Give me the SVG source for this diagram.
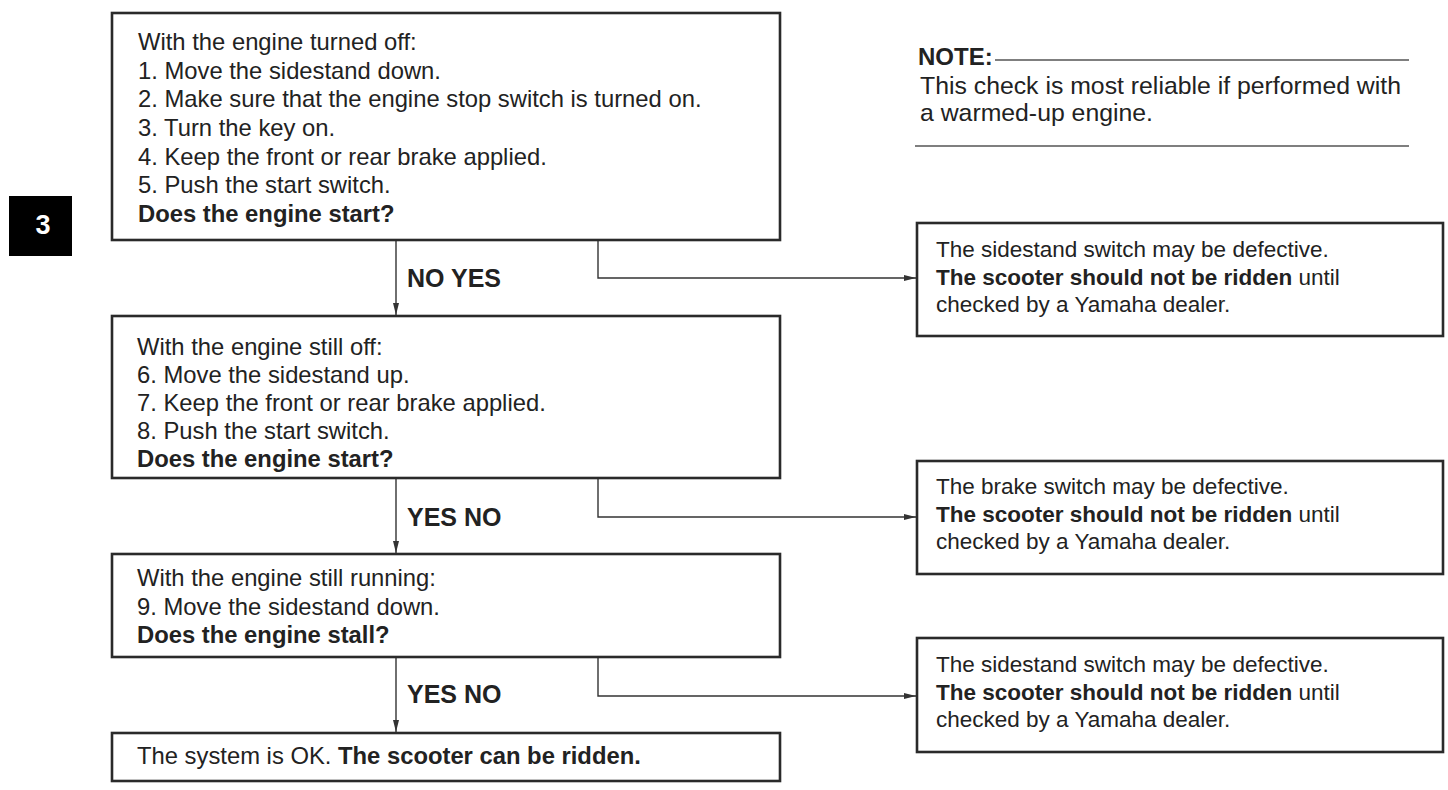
<svg xmlns="http://www.w3.org/2000/svg" width="1448" height="790" viewBox="0 0 1448 790">
<defs>
<style>
.box{fill:#fff;stroke:#2a2a2a;stroke-width:2.6}
.t{font-family:"Liberation Sans",Arial,sans-serif;font-size:23.8px;fill:#222}
.r{font-family:"Liberation Sans",Arial,sans-serif;font-size:22.5px;fill:#222}
.b{font-weight:bold}
.lbl{font-family:"Liberation Sans",Arial,sans-serif;font-size:25px;font-weight:bold;fill:#222}
.con{fill:none;stroke:#333;stroke-width:1.4}
.rule{stroke:#555;stroke-width:1.6}
</style>
<marker id="ah" viewBox="0 0 12 6" refX="12" refY="3" markerWidth="12" markerHeight="6" markerUnits="userSpaceOnUse" orient="auto">
<path d="M0,0 L12,3 L0,6 Z" fill="#333"/>
</marker>
</defs>
<rect width="1448" height="790" fill="#fff"/>

<g id="tab">
<rect x="9" y="196" width="63" height="60" fill="#000"/>
<text x="43" y="234" text-anchor="middle" font-family="Liberation Sans,Arial,sans-serif" font-size="27" font-weight="bold" fill="#fff">3</text>
</g>

<g id="note">
<text x="918" y="65" class="lbl" style="font-size:24px">NOTE:</text>
<line x1="995" y1="60" x2="1409" y2="60" class="rule"/>
<text class="t" style="font-size:24.8px"><tspan x="920" y="94">This check is most reliable if performed with</tspan><tspan x="920" y="121">a warmed-up engine.</tspan></text>
<line x1="915" y1="146" x2="1409" y2="146" class="rule"/>
</g>

<g id="connectors">
<line x1="396" y1="240" x2="396" y2="315" class="con" marker-end="url(#ah)"/>
<polyline points="598,240 598,278 916,278" class="con" marker-end="url(#ah)"/>
<line x1="396" y1="478" x2="396" y2="553" class="con" marker-end="url(#ah)"/>
<polyline points="598,478 598,517 916,517" class="con" marker-end="url(#ah)"/>
<line x1="396" y1="657" x2="396" y2="732" class="con" marker-end="url(#ah)"/>
<polyline points="598,657 598,696 916,696" class="con" marker-end="url(#ah)"/>
<text x="407" y="287" class="lbl">NO YES</text>
<text x="407" y="526" class="lbl">YES NO</text>
<text x="407" y="703" class="lbl">YES NO</text>
</g>

<g id="step1">
<rect x="112" y="13" width="668" height="227" class="box"/>
<text class="t"><tspan x="138" y="50">With the engine turned off:</tspan><tspan x="138" y="78.7">1. Move the sidestand down.</tspan><tspan x="138" y="107.3">2. Make sure that the engine stop switch is turned on.</tspan><tspan x="138" y="136">3. Turn the key on.</tspan><tspan x="138" y="164.7">4. Keep the front or rear brake applied.</tspan><tspan x="138" y="193.3">5. Push the start switch.</tspan><tspan x="138" y="222" class="b">Does the engine start?</tspan></text>
</g>

<g id="step2">
<rect x="112" y="316" width="668" height="162" class="box"/>
<text class="t"><tspan x="137" y="355">With the engine still off:</tspan><tspan x="137" y="383">6. Move the sidestand up.</tspan><tspan x="137" y="411">7. Keep the front or rear brake applied.</tspan><tspan x="137" y="439">8. Push the start switch.</tspan><tspan x="137" y="467" class="b">Does the engine start?</tspan></text>
</g>

<g id="step3">
<rect x="112" y="554" width="668" height="103" class="box"/>
<text class="t"><tspan x="137" y="586">With the engine still running:</tspan><tspan x="137" y="614.5">9. Move the sidestand down.</tspan><tspan x="137" y="643" class="b">Does the engine stall?</tspan></text>
</g>

<g id="ok">
<rect x="112" y="733" width="668" height="48" class="box"/>
<text x="137" y="764" class="t">The system is OK. <tspan class="b">The scooter can be ridden.</tspan></text>
</g>

<g id="result1">
<rect x="917" y="223" width="526" height="113" class="box"/>
<text class="r"><tspan x="936" y="257">The sidestand switch may be defective.</tspan><tspan x="936" y="285"><tspan class="b">The scooter should not be ridden</tspan> until</tspan><tspan x="936" y="312">checked by a Yamaha dealer.</tspan></text>
</g>

<g id="result2">
<rect x="917" y="461" width="526" height="113" class="box"/>
<text class="r"><tspan x="936" y="494">The brake switch may be defective.</tspan><tspan x="936" y="522"><tspan class="b">The scooter should not be ridden</tspan> until</tspan><tspan x="936" y="549">checked by a Yamaha dealer.</tspan></text>
</g>

<g id="result3">
<rect x="917" y="638" width="526" height="114" class="box"/>
<text class="r"><tspan x="936" y="672">The sidestand switch may be defective.</tspan><tspan x="936" y="700"><tspan class="b">The scooter should not be ridden</tspan> until</tspan><tspan x="936" y="727">checked by a Yamaha dealer.</tspan></text>
</g>
</svg>
